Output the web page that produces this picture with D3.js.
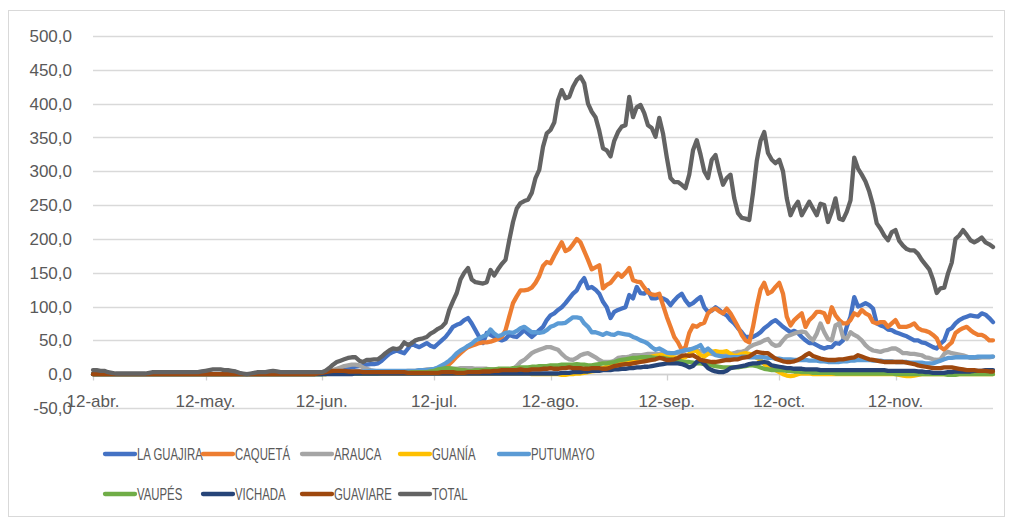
<!DOCTYPE html>
<html><head><meta charset="utf-8">
<script src="https://cdn.jsdelivr.net/npm/d3@7"></script>
<style>body{margin:0;background:#fff}svg{display:block}</style>
</head><body>
<svg id="chart" width="1010" height="521"></svg>
<script>
// ---- DATA ----
const startDate = new Date(2020, 3, 12);
const tickDates = [new Date(2020,3,12), new Date(2020,4,12), new Date(2020,5,12), new Date(2020,6,12),
                   new Date(2020,7,12), new Date(2020,8,12), new Date(2020,9,12), new Date(2020,10,12)];
const tickLabels = ["12-abr.", "12-may.", "12-jun.", "12-jul.", "12-ago.", "12-sep.", "12-oct.", "12-nov."];
const yTicks = [-50, 0, 50, 100, 150, 200, 250, 300, 350, 400, 450, 500];
const seriesNames = ["LA GUAJIRA", "CAQUETÁ", "ARAUCA", "GUANÍA", "PUTUMAYO", "VAUPÉS", "VICHADA", "GUAVIARE", "TOTAL"];

const laGuajira = [
0,0,0,0,0,0,0,0,0,0, 0,0,0,0,0,0,0,0,0,0, 0,0,0,0,0,0,0,0,0,0,
0,0,0,0,0,0,0,0,0,0, 0,0,0,0,0,0,0,0,0,0, 0,0,0,0,0,0,0,0,0,0,
0,0,1,2,3,5,7,8,9,10,
11,12,13,14,15,15,16,20,25,30,
33,35,33,31,38,46,42,40,43,46,
42,40,45,50,55,62,70,73,75,80,
83,75,65,55,46,61,58,55,52,50,
52,58,56,55,60,65,60,55,60,65,
70,80,87,90,95,99,105,112,119,124,
135,142,127,129,125,119,107,99,83,92,
95,97,99,117,112,129,120,119,124,112,
112,114,112,109,102,109,115,119,109,102,
105,110,114,99,92,94,99,95,90,87,
80,75,68,62,55,55,55,58,62,68,
72,77,80,75,70,66,62,64,61,55,
50,46,46,43,40,38,40,40,46,45,
50,70,85,114,100,102,105,102,97,75,
72,70,66,65,62,60,58,56,53,50,
50,47,46,43,40,38,45,50,65,68,
75,80,83,85,87,86,85,90,88,83,77];

const caqueta = [
0,0,0,0,0,0,0,0,0,0, 0,0,0,0,0,0,0,0,0,0, 0,0,0,0,0,0,0,0,0,0,
0,0,0,0,0,0,0,0,0,0, 0,0,0,0,0,0,0,0,0,0, 0,0,0,0,0,0,0,0,0,0,
1,1,1,1,1,1,1,1,1,1,
1,1,1,1,1,1,1,1,1,1,
1,1,1,1,1,1,1,1,2,2,
2,3,4,6,10,15,20,26,31,36,
40,42,44,46,47,47,48,50,52,55,
65,85,105,115,124,124,125,128,135,145,
160,166,164,175,185,195,182,185,192,200,
195,182,169,155,158,161,127,132,135,142,
149,144,150,157,139,137,136,128,121,118,
117,119,102,85,70,55,47,36,40,61,
72,70,74,76,90,95,97,93,90,97,
90,80,70,58,50,47,70,100,125,135,
119,122,129,135,119,85,72,80,85,90,
70,80,85,92,92,90,77,99,87,80,
75,75,80,90,87,95,90,87,77,75,
77,77,70,75,80,70,70,70,72,75,
68,65,64,62,58,53,40,36,42,47,
61,65,68,70,65,61,58,58,55,50,50];

const arauca = [
0,0,0,0,0,0,0,0,0,0, 0,0,0,0,0,0,0,0,0,0, 0,0,0,0,0,0,0,0,0,0,
0,0,0,0,0,0,0,0,0,0, 0,0,0,0,0,0,0,0,0,0, 0,0,0,0,0,0,0,0,0,0,
0,0,1,3,6,8,10,12,13,14,
14,13,10,8,6,5,4,4,4,4,
4,4,4,4,5,5,5,6,6,7,
7,7,8,8,8,8,8,8,9,9,
9,9,8,8,8,8,7,7,7,6,
6,6,8,12,18,21,26,31,34,36,
38,40,40,38,36,30,25,22,21,24,
28,30,31,28,25,21,18,18,18,20,
24,25,25,26,28,28,28,29,30,30,
30,30,31,31,31,31,31,33,35,37,
36,35,34,33,31,30,29,28,28,28,
30,31,33,33,35,40,43,45,47,50,
52,45,42,43,50,56,58,60,62,63,
62,55,50,60,75,62,52,50,72,75,
55,52,62,58,55,50,43,38,35,34,
33,35,36,38,38,35,31,31,30,30,
29,28,25,24,22,21,22,30,33,31,
30,29,28,26,24,24,24,25,25,25,26];

const guania = [
0,0,0,0,0,0,0,0,0,0, 0,0,0,0,0,0,0,0,0,0, 0,0,0,0,0,0,0,0,0,0,
0,0,0,0,0,0,0,0,0,0, 0,0,0,0,0,0,0,0,0,0, 0,0,0,0,0,0,0,0,0,0,
0,0,0,1,1,1,1,1,1,1,
1,1,1,1,1,1,1,1,1,1,
1,1,1,1,1,1,1,1,1,1,
1,1,1,1,1,1,1,1,1,1,
1,1,1,1,1,1,1,1,1,1,
1,1,1,1,1,1,1,0,0,0,
0,0,0,0,0,-1,-1,0,0,1,
1,2,3,4,5,7,9,11,13,15,
16,17,18,20,21,22,23,24,25,26,
27,28,28,27,26,25,24,24,25,30,
35,34,28,26,30,33,34,33,33,34,
30,27,28,30,31,30,28,24,21,15,
11,9,6,3,0,-2,-3,-2,0,1,
1,1,0,0,0,0,0,0,0,0,
0,0,0,0,0,0,0,0,0,0,
0,0,0,0,0,-1,-2,-3,-3,-2,
-1,0,0,0,0,0,0,0,0,0,
0,0,0,0,0,0,0,0,0,0,0];

const putumayo = [
0,0,0,0,0,0,0,0,0,0, 0,0,0,0,0,0,0,0,0,0, 0,0,0,0,0,0,0,0,0,0,
0,0,0,0,0,0,0,0,0,0, 0,0,0,0,0,0,0,0,0,0, 0,0,0,0,0,0,0,0,0,0,
0,0,1,1,2,2,3,3,3,3,
4,4,4,4,5,5,5,5,5,5,
5,5,5,5,5,5,5,6,6,6,
7,8,10,13,16,20,25,31,35,38,
42,45,50,53,56,58,66,60,56,58,
61,62,61,64,68,70,66,62,62,61,
62,65,70,72,75,75,76,80,84,84,
83,75,70,62,62,60,58,61,59,58,
61,60,59,58,55,53,50,48,45,40,
36,38,35,32,31,31,33,34,36,36,
38,40,43,34,38,33,28,27,26,26,
25,25,25,26,26,25,25,25,25,25,
24,24,23,23,22,22,22,21,21,21,
21,20,20,20,19,19,18,18,18,18,
19,19,20,20,21,21,21,21,20,20,
20,19,19,19,18,18,18,18,17,17,
17,17,16,16,16,18,20,22,24,24,
25,25,25,25,25,25,26,26,26,26,26];

const vaupes = [
0,0,0,0,0,0,0,0,0,0, 0,0,0,0,0,0,0,0,0,0, 0,0,0,0,0,0,0,0,0,0,
0,0,0,0,0,0,0,0,0,0, 0,0,0,0,0,0,0,0,0,0, 0,0,0,0,0,0,0,0,0,0,
0,0,0,1,1,1,1,1,1,1,
1,1,1,1,1,1,1,2,2,2,
2,2,2,2,2,3,3,3,3,3,
4,5,7,8,9,9,8,7,6,6,
5,5,6,6,6,7,7,7,8,8,
8,8,9,9,10,10,10,11,11,12,
12,12,13,13,13,14,14,14,14,15,
14,14,13,13,14,15,16,16,17,18,
20,21,22,23,24,24,25,25,25,25,
24,24,24,23,22,21,20,19,18,18,
17,16,16,15,14,13,12,11,10,10,
10,10,10,11,12,13,13,12,10,8,
7,6,6,6,6,5,5,4,4,3,
3,3,2,2,2,2,2,2,1,1,
1,1,1,1,1,1,1,1,1,1,
1,1,1,1,0,0,0,0,0,0,
0,0,0,0,0,0,0,0,-1,-1,
-1,0,0,0,0,0,0,0,0,0,0];

const vichada = [
0,0,0,0,0,0,0,0,0,0, 0,0,0,0,0,0,0,0,0,0, 0,0,0,0,0,0,0,0,0,0,
0,0,0,0,0,0,0,0,0,0, 0,0,0,0,0,0,0,0,0,0, 0,0,0,0,0,0,0,0,0,0,
0,0,0,0,0,0,0,0,0,0,
1,1,1,1,1,1,1,1,1,1,
1,1,1,1,1,1,1,1,1,1,
1,1,1,1,1,1,1,1,1,1,
1,1,1,1,1,1,1,1,1,1,
1,1,1,1,1,1,1,1,1,1,
1,1,1,1,1,2,2,2,3,3,
3,4,4,5,5,5,6,6,6,7,
7,8,8,9,9,10,10,11,11,12,
13,14,15,16,16,16,16,15,13,10,
12,18,21,15,9,6,4,3,3,5,
9,10,11,12,13,15,16,16,17,18,
17,13,12,11,10,9,9,8,8,8,
7,7,7,7,6,6,6,6,6,6,
6,6,6,6,6,6,6,6,6,6,
6,6,5,5,5,5,5,5,5,5,
4,4,3,3,2,2,2,2,3,3,
4,4,4,4,4,5,5,5,6,6,6];

const guaviare = [
0,0,0,0,0,0,0,0,0,0, 0,0,0,0,0,0,0,0,0,0, 0,0,0,0,0,0,0,0,0,0,
0,0,0,0,0,0,0,0,0,0, 0,0,0,0,0,0,0,0,0,0, 0,0,0,0,0,0,0,0,0,0,
1,2,3,4,5,5,5,5,4,4,
4,4,3,3,3,3,3,3,3,3,
3,3,3,3,2,2,2,2,2,2,
2,2,2,3,3,3,3,2,2,2,
3,3,3,3,4,4,4,5,5,6,
6,6,6,6,7,6,6,7,7,7,
8,8,9,8,8,9,9,10,9,9,
9,8,8,9,9,9,8,8,10,12,
13,14,15,15,16,17,18,19,20,21,
22,24,23,21,21,22,24,27,28,27,
28,25,21,20,19,18,18,19,20,21,
21,22,22,24,25,26,30,33,32,31,
31,27,23,21,19,18,18,19,21,24,
28,31,27,25,23,22,21,21,21,22,
22,23,24,25,28,26,24,22,21,20,
19,18,18,18,18,18,18,17,16,15,
13,12,11,10,9,9,9,10,10,10,
9,8,7,6,6,6,5,5,5,4,4];

const total = [
6,6,5,5,3,2,1,1,1,1,
1,1,1,1,1,2,3,3,3,3,
3,3,3,3,3,3,3,3,3,4,
5,6,7,7,7,6,6,5,4,2,
1,0,1,2,3,3,3,4,5,4,
3,3,3,3,3,3,3,3,3,3,
3,3,5,9,14,18,20,22,24,25,
25,20,18,21,21,22,22,26,31,35,
38,37,39,47,43,46,50,52,53,55,
60,63,67,70,76,95,108,120,140,150,
157,140,136,135,134,136,154,146,155,163,
169,198,225,245,253,256,258,268,290,302,
336,356,361,372,405,420,408,410,425,435,
440,430,400,388,380,360,334,331,322,345,
358,366,368,410,380,395,398,386,368,364,
351,379,356,321,290,284,284,280,275,295,
331,346,325,300,290,317,324,300,280,290,
295,260,238,231,230,228,268,315,345,358,
327,317,312,317,300,260,235,247,255,235,
245,255,245,235,252,250,225,240,260,230,
228,240,257,320,304,295,285,270,250,223,
215,205,198,210,213,197,190,185,183,183,
178,169,162,155,140,120,127,128,149,165,
200,205,213,206,198,195,198,202,195,192,188];

const seriesValues = [laGuajira, caqueta, arauca, guania, putumayo, vaupes, vichada, guaviare, total];
const seriesColors = ["#4472C4", "#ED7D31", "#A5A5A5", "#FFC000", "#5B9BD5", "#70AD47", "#264478", "#9E480E", "#636363"];

// ---- CHART ----
const svg = d3.select("#chart");
const W = 1010, H = 521;
const plot = {left: 93, right: 993, top: 36, bottom: 408};
const nDays = d3.max(seriesValues, s => s.length);
const dates = d3.range(nDays).map(i => d3.timeDay.offset(startDate, i));

const x = d3.scaleTime().domain([startDate, dates[nDays - 1]]).range([plot.left, plot.right]);
const y = d3.scaleLinear().domain([-50, 500]).range([plot.bottom, plot.top]);

const locale = d3.formatLocale({decimal: ",", thousands: ".", grouping: [3], currency: ["", ""], minus: "-"});
const fmt = locale.format(".1f");

svg.append("rect").attr("x", 0).attr("y", 0).attr("width", W).attr("height", H).attr("fill", "#fff");
svg.append("rect").attr("x", 8.5).attr("y", 10.5).attr("width", 996).attr("height", 506)
  .attr("fill", "none").attr("stroke", "#D9D9D9").attr("stroke-width", 1);

const font = "'Liberation Sans', Arial, sans-serif";

// gridlines
svg.append("g").selectAll("line").data(yTicks).join("line")
  .attr("x1", plot.left).attr("x2", plot.right)
  .attr("y1", d => Math.round(y(d)) + 0.5).attr("y2", d => Math.round(y(d)) + 0.5)
  .attr("stroke", "#D9D9D9").attr("stroke-width", 1.3);

// y labels
svg.append("g").selectAll("text").data(yTicks).join("text")
  .attr("x", 72).attr("y", d => y(d)).attr("dy", "0.36em")
  .attr("text-anchor", "end").attr("font-family", font).attr("font-size", 17)
  .attr("fill", "#595959").text(d => fmt(d));

// x axis at 0
const y0 = Math.round(y(0)) + 0.5;
svg.append("line").attr("x1", plot.left).attr("x2", plot.right).attr("y1", y0).attr("y2", y0)
  .attr("stroke", "#D0D0D0").attr("stroke-width", 1.3);
svg.append("g").selectAll("line").data(tickDates).join("line")
  .attr("x1", d => Math.round(x(d)) + 0.5).attr("x2", d => Math.round(x(d)) + 0.5)
  .attr("y1", y0).attr("y2", y0 + 6).attr("stroke", "#D0D0D0").attr("stroke-width", 1.3);
svg.append("g").selectAll("text").data(tickDates).join("text")
  .attr("x", d => x(d)).attr("y", 407)
  .attr("text-anchor", "middle").attr("font-family", font).attr("font-size", 17)
  .attr("fill", "#595959").text((d, i) => tickLabels[i]);

// lines
const line = d3.line().x((d, i) => x(dates[i])).y(d => y(d));
svg.append("g").selectAll("path").data(seriesValues).join("path")
  .attr("d", d => line(d)).attr("fill", "none")
  .attr("stroke", (d, i) => seriesColors[i]).attr("stroke-width", 4.3)
  .attr("stroke-linejoin", "round").attr("stroke-linecap", "round");

// legend
const legendCols = [105, 203, 302, 400, 499];
const legendRows = [454, 494];
const lg = svg.append("g").selectAll("g").data(seriesNames).join("g")
  .attr("transform", (d, i) => `translate(${legendCols[i % 5]},${legendRows[Math.floor(i / 5)]})`);
lg.append("line").attr("x1", 0).attr("x2", 30).attr("y1", 0).attr("y2", 0)
  .attr("stroke", (d, i) => seriesColors[i]).attr("stroke-width", 4.3).attr("stroke-linecap", "round");
lg.append("text").attr("transform", "translate(32,0) scale(0.69,1)").attr("dy", "0.36em")
  .attr("font-family", font)
  .attr("font-size", 16.5).attr("fill", "#595959").text(d => d);
</script>
</body></html>
